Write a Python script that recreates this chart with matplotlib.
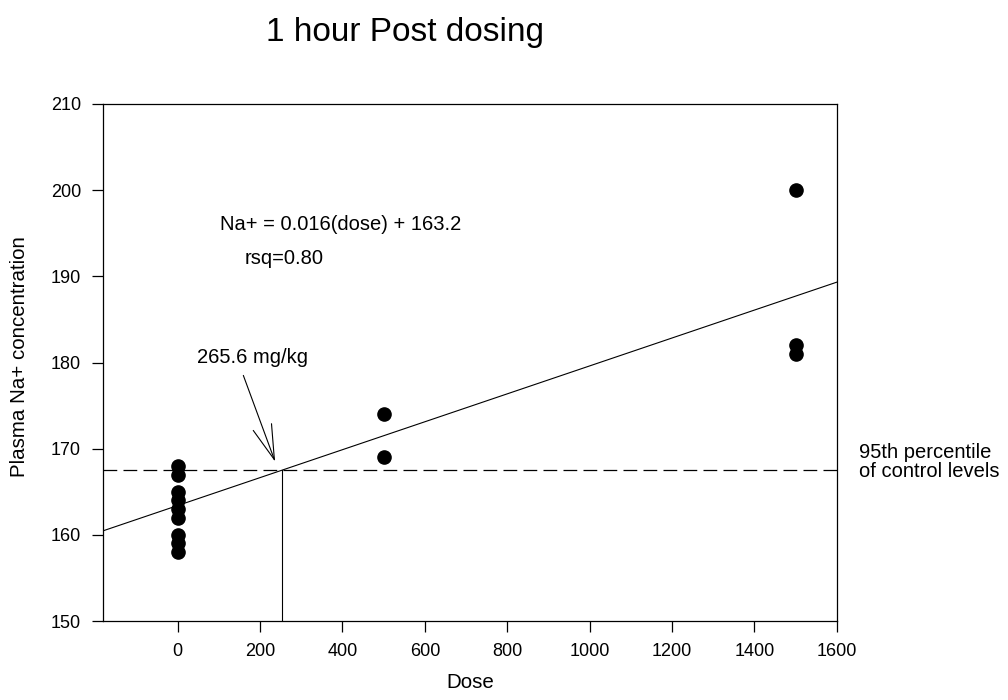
import matplotlib
matplotlib.use("Agg")
import matplotlib.pyplot as plt
from matplotlib import font_manager as fm

# ---- data ----
dose_ctrl = [0, 0, 0, 0, 0, 0, 0, 0, 0]
na_ctrl = [168, 167, 165, 164, 163, 162, 160, 159, 158]
dose_500 = [500, 500]
na_500 = [174, 169]
dose_1500 = [1500, 1500, 1500]
na_1500 = [200, 182, 181]

slope = 0.0162
intercept = 163.4
threshold = 167.5

x_ticks = [0, 200, 400, 600, 800, 1000, 1200, 1400, 1600]
y_ticks = [150, 160, 170, 180, 190, 200, 210]

title = "1 hour Post dosing"
xlabel = "Dose"
ylabel = "Plasma Na+ concentration"
eq_text = "Na+ = 0.016(dose) + 163.2"
rsq_text = "rsq=0.80"
dose_text = "265.6 mg/kg"
pct_text = "95th percentile\nof control levels"

# ---- fonts ----
names = {f.name for f in fm.fontManager.ttflist}
main_font = "Liberation Sans" if "Liberation Sans" in names else "DejaVu Sans"
tick_font = "Liberation Sans Narrow" if "Liberation Sans Narrow" in names else main_font
plt.rcParams["font.family"] = [main_font, "DejaVu Sans"]

fig = plt.figure(figsize=(10.08, 7.0), dpi=100)
ax = fig.add_axes([103.3 / 1008, 1 - 621 / 700, (836.7 - 103.3) / 1008, (621 - 104) / 700])

xmin, xmax = -180.6, 1600
ax.set_xlim(xmin, xmax)
ax.set_ylim(150, 210)

all_x = dose_ctrl + dose_500 + dose_1500
all_y = na_ctrl + na_500 + na_1500
ax.plot(all_x, all_y, "o", color="black", markersize=9.5, zorder=3, clip_on=False)

# regression line
ax.plot([xmin, xmax], [intercept + slope * xmin, intercept + slope * xmax],
        color="black", lw=0.8)
# threshold dashed
ax.plot([xmin, xmax], [threshold, threshold], color="black", lw=0.9,
        dashes=(11, 5))
# vertical drop
xc = (threshold - intercept) / slope
ax.plot([xc, xc], [150, threshold], color="black", lw=0.8)

ax.text(102.7, 196.0, eq_text, fontsize=14.5, ha="left", va="center")
ax.text(163, 192.1, rsq_text, fontsize=14.5, ha="left", va="center")
ax.text(47, 180.6, dose_text, fontsize=14.5, ha="left", va="center")
ax.annotate("", xy=(236.5, 168.5), xytext=(159.4, 178.5),
            arrowprops=dict(arrowstyle="->,head_length=2.5,head_width=0.7",
                            mutation_scale=10, color="black", lw=0.8,
                            shrinkA=0, shrinkB=0))

ax.text(1.031, (threshold - 150) / 60 + 0.016, pct_text, transform=ax.transAxes,
        fontsize=14.5, ha="left", va="center", linespacing=0.95)

ax.set_xticks(x_ticks)
ax.set_yticks(y_ticks)
ax.tick_params(direction="out", length=8, width=0.9, top=False, right=False,
               labelsize=13, pad=8)
for lab in ax.get_xticklabels() + ax.get_yticklabels():
    lab.set_family([tick_font, main_font])
for sp in ax.spines.values():
    sp.set_linewidth(0.9)

fig.text(20 / 1008, 1 - 357 / 700, ylabel, rotation=90, fontsize=14.8,
         ha="center", va="center")
fig.text(470 / 1008, 1 - 683 / 700, xlabel, fontsize=14.8, ha="center", va="center")
fig.text(405 / 1008, 1 - 32 / 700, title, fontsize=24, ha="center", va="center")

fig.savefig("out.png", dpi=100)
